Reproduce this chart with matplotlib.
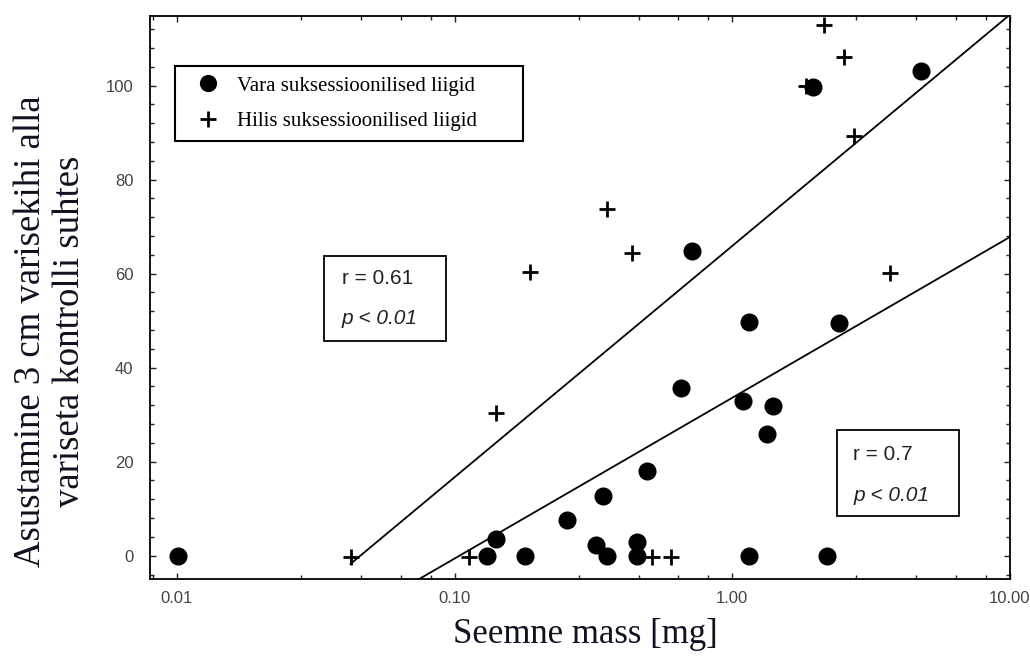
import numpy as np
import matplotlib
matplotlib.use("Agg")
import matplotlib.pyplot as plt
from matplotlib.ticker import FixedLocator, FixedFormatter, NullFormatter
from matplotlib.patches import Rectangle

# ---- data ----
early_mass = [0.0101, 0.131, 0.1405, 0.180, 0.253, 0.322, 0.353, 0.343, 0.455, 0.455,
              0.491, 0.653, 0.717, 1.148, 1.095, 1.403, 1.336, 2.42, 1.148, 2.20, 4.77, 1.956]
early_resp = [0.0, 0.0, 3.5, 0.0, 7.6, 2.3, 0.0, 12.6, 2.9, 0.0,
              18.0, 35.6, 64.9, 49.8, 32.8, 31.9, 25.8, 49.6, 0.0, 0.0, 103.0, 99.7]

late_mass = [0.0422, 0.113, 0.141, 0.187, 0.353, 0.434, 0.512, 0.600,
             1.85, 2.14, 2.53, 2.75, 3.69]
late_resp = [-0.3, -0.3, 30.3, 60.4, 73.8, 64.3, -0.3, -0.3,
             100.0, 112.9, 106.0, 89.3, 60.2]

# regression fits  y = a + b*log10(x)
late_fit = (65.9, 49.2)      # r = 0.61
early_fit = (33.6, 34.2)     # r = 0.7

x_major = [0.01, 0.1, 1, 10]
x_major_labels = ["0.01", "0.10", "1.00", "10.00"]
y_major = [0, 20, 40, 60, 80, 100]

legend_labels = ["Vara suksessioonilised liigid", "Hilis suksessioonilised liigid"]
ylabel_text = "Asustamine 3 cm varisekihi alla\nvariseta kontrolli suhtes"
xlabel_text = "Seemne mass [mg]"

# ---- figure ----
fig = plt.figure(figsize=(10.30, 6.59), dpi=100)
ax = fig.add_axes([150/1030, 1-578.5/659, 860/1030, 562.5/659])

ax.set_xscale("log")
ax.set_xlim(0.008, 10)
ax.set_ylim(-4.85, 114.8)

# regression lines
xl = np.logspace(np.log10(min(late_mass)), 1, 100)
ax.plot(xl, late_fit[0] + late_fit[1]*np.log10(xl), color="black", lw=1.3, zorder=2)
xe = np.logspace(np.log10(min(early_mass)), 1, 100)
ax.plot(xe, early_fit[0] + early_fit[1]*np.log10(xe), color="black", lw=1.3, zorder=2)

ax.plot(early_mass, early_resp, linestyle="none", marker="o", ms=12, color="black",
        label=legend_labels[0], zorder=3)
ax.plot(late_mass, late_resp, linestyle="none", marker="+", ms=12, mew=2, color="black",
        label=legend_labels[1], zorder=3)

# ticks
ax.xaxis.set_major_locator(FixedLocator(x_major))
ax.xaxis.set_major_formatter(FixedFormatter(x_major_labels))
minors = []
for d in [0.001, 0.01, 0.1, 1]:
    for k in range(1, 5):
        minors.append(d*(1+1.8*k))
ax.xaxis.set_minor_locator(FixedLocator(minors))
ax.xaxis.set_minor_formatter(NullFormatter())
ax.yaxis.set_major_locator(FixedLocator(y_major))
ax.yaxis.set_minor_locator(FixedLocator(np.arange(-4, 116, 4)))

ax.tick_params(which="both", direction="in", top=True, right=True, color="#222222")
ax.tick_params(which="major", length=4, width=1)
ax.tick_params(which="minor", length=3, width=1)
ax.tick_params(axis="x", which="major", pad=9, labelsize=12, labelcolor="#444444")
ax.tick_params(axis="y", which="major", pad=12, labelsize=12, labelcolor="#444444")
for lab in ax.get_xticklabels() + ax.get_yticklabels():
    lab.set_family("Liberation Sans")

for s in ax.spines.values():
    s.set_linewidth(1.3)
    s.set_color("black")

# axis labels
ax.set_ylabel(ylabel_text, family="Liberation Serif", fontsize=26.5, va="center",
              linespacing=1.2, color="#111122")
ax.yaxis.set_label_coords(-0.116, 0.44)
ax.set_xlabel(xlabel_text, family="Liberation Serif", fontsize=25, va="center",
              color="#111122")
ax.xaxis.set_label_coords(0.506, -0.10)

# legend
leg = ax.legend(loc="upper left", bbox_to_anchor=(0.029, 0.8116, 0.405, 0.1), mode="expand",
                borderaxespad=0, fancybox=False, edgecolor="black", framealpha=1,
                prop={"family": "Liberation Serif", "size": 15},
                borderpad=0.5, handlelength=2.2, handletextpad=0.3,
                labelspacing=0.75, markerscale=0.95)
leg.get_frame().set_linewidth(1.5)

# stats boxes
def stat_box(x0, y0, x1, y1, tx, ty1, ty2, rtext):
    ax.add_patch(Rectangle((x0, y0), x1-x0, y1-y0, transform=ax.transAxes,
                           fill=True, facecolor="white", edgecolor="black", lw=1.3, zorder=4))
    ax.text(tx, ty1, rtext, transform=ax.transAxes, family="Liberation Sans", fontsize=15,
            va="center", ha="left", color="#222222", zorder=5)
    ax.text(tx, ty2, "p < 0.01", transform=ax.transAxes, family="Liberation Sans",
            fontsize=15, style="italic", va="center", ha="left", color="#222222", zorder=5)

stat_box(0.2023, 0.4222, 0.3442, 0.5739, 0.2229, 0.5337, 0.4631, "r = 0.61")
stat_box(0.7985, 0.1116, 0.9410, 0.2640, 0.8178, 0.2208, 0.1484, "r = 0.7")

fig.savefig("out.png", dpi=100)
